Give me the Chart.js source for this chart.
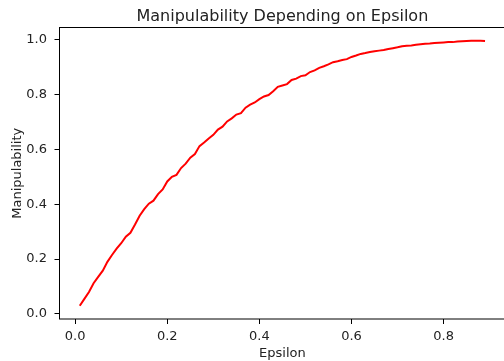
<!DOCTYPE html>
<html>
<head>
<meta charset="utf-8">
<script src="https://cdn.jsdelivr.net/npm/chart.js@4.4.1/dist/chart.umd.min.js"></script>
<style>
  html, body { margin: 0; padding: 0; background: #fff; overflow: hidden; }
  canvas { display: block; }
</style>
</head>
<body>
<canvas id="chartManip" width="520" height="361"></canvas>
<script>
// epsilon values on the x axis
var epsilon = [
  0.01, 0.02, 0.03, 0.04, 0.05, 0.06, 0.07, 0.08, 0.09, 0.10,
  0.11, 0.12, 0.13, 0.14, 0.15, 0.16, 0.17, 0.18, 0.19, 0.20,
  0.21, 0.22, 0.23, 0.24, 0.25, 0.26, 0.27, 0.28, 0.29, 0.30,
  0.31, 0.32, 0.33, 0.34, 0.35, 0.36, 0.37, 0.38, 0.39, 0.40,
  0.41, 0.42, 0.43, 0.44, 0.45, 0.46, 0.47, 0.48, 0.49, 0.50,
  0.51, 0.52, 0.53, 0.54, 0.55, 0.56, 0.57, 0.58, 0.59, 0.60,
  0.61, 0.62, 0.63, 0.64, 0.65, 0.66, 0.67, 0.68, 0.69, 0.70,
  0.71, 0.72, 0.73, 0.74, 0.75, 0.76, 0.77, 0.78, 0.79, 0.80,
  0.81, 0.82, 0.83, 0.84, 0.85, 0.86, 0.87, 0.88, 0.89
];

// manipulability
var manipulability = [
  0.030, 0.055, 0.080, 0.112, 0.135, 0.158, 0.190, 0.215, 0.238, 0.258,
  0.282, 0.296, 0.326, 0.358, 0.382, 0.402, 0.413, 0.437, 0.454, 0.483,
  0.500, 0.507, 0.532, 0.548, 0.570, 0.583, 0.612, 0.625, 0.640, 0.653,
  0.672, 0.683, 0.702, 0.713, 0.727, 0.732, 0.752, 0.763, 0.771, 0.783,
  0.793, 0.798, 0.812, 0.828, 0.833, 0.838, 0.853, 0.858, 0.867, 0.870,
  0.882, 0.888, 0.897, 0.903, 0.910, 0.918, 0.921, 0.926, 0.929, 0.937,
  0.942, 0.948, 0.951, 0.955, 0.958, 0.960, 0.962, 0.966, 0.969, 0.972,
  0.976, 0.978, 0.979, 0.981, 0.983, 0.985, 0.986, 0.988, 0.989, 0.990,
  0.991, 0.991, 0.993, 0.994, 0.995, 0.996, 0.996, 0.996, 0.995
];

var xTicks = [0.0, 0.2, 0.4, 0.6, 0.8];
var yTicks = [0.0, 0.2, 0.4, 0.6, 0.8, 1.0];
var chartTitle = 'Manipulability Depending on Epsilon';

// matplotlib style 5% margins around the data
function padRange(arr) {
  var lo = Math.min.apply(null, arr), hi = Math.max.apply(null, arr);
  var m = (hi - lo) * 0.05;
  return { min: lo - m, max: hi + m };
}
var xr = padRange(epsilon);
var yr = padRange(manipulability);

var font = 'DejaVu Sans';
var textColor = '#222';

// spines on all four sides + title centred over the plot area
var frame = {
  id: 'frame',
  afterDraw: function (chart) {
    var a = chart.chartArea, ctx = chart.ctx;
    ctx.save();
    ctx.strokeStyle = '#000';
    ctx.lineWidth = 1;
    ctx.strokeRect(a.left, a.top, a.right - a.left, a.bottom - a.top);
    ctx.fillStyle = textColor;
    ctx.font = '16px "' + font + '"';
    ctx.textAlign = 'center';
    ctx.textBaseline = 'alphabetic';
    ctx.fillText(chartTitle, (a.left + a.right) / 2, a.top - 6.5);
    ctx.restore();
  }
};

var config = {
  type: 'line',
  data: {
    datasets: [{
      label: 'Manipulability',
      data: epsilon.map(function (e, i) { return { x: e, y: manipulability[i] }; }),
      borderColor: '#ff0000',
      borderWidth: 2,
      pointRadius: 0,
      fill: false,
      tension: 0
    }]
  },
  options: {
    responsive: false,
    animation: false,
    layout: { padding: { left: 0, right: 14.7, top: 27.5, bottom: 0 } },
    plugins: {
      legend: { display: false },
      tooltip: { enabled: false },
      title: { display: false }
    },
    scales: {
      x: {
        type: 'linear',
        min: xr.min,
        max: xr.max,
        afterFit: function (s) { s.height = 42; },
        afterBuildTicks: function (s) { s.ticks = xTicks.map(function (v) { return { value: v }; }); },
        border: { display: false },
        grid: { drawOnChartArea: false, tickLength: 5, tickColor: '#000', tickWidth: 1 },
        ticks: {
          color: textColor,
          padding: 5.2,
          maxRotation: 0,
          font: { family: font, size: 13 },
          callback: function (v) { return v.toFixed(1); }
        },
        title: {
          display: true,
          text: 'Epsilon',
          color: textColor,
          font: { family: font, size: 13 },
          padding: { top: 0, bottom: 0 }
        }
      },
      y: {
        min: yr.min,
        max: yr.max,
        afterFit: function (s) { s.width = 59.5; },
        afterBuildTicks: function (s) { s.ticks = yTicks.map(function (v) { return { value: v }; }); },
        border: { display: false },
        grid: { drawOnChartArea: false, tickLength: 5, tickColor: '#000', tickWidth: 1 },
        ticks: {
          color: textColor,
          padding: 7.5,
          font: { family: font, size: 13 },
          callback: function (v) { return v.toFixed(1); }
        },
        title: {
          display: true,
          text: 'Manipulability',
          color: textColor,
          font: { family: font, size: 13 },
          padding: { top: 9.5, bottom: 0 }
        }
      }
    }
  },
  plugins: [frame]
};

var ctx = document.getElementById('chartManip').getContext('2d');
window.chartManip = new Chart(ctx, config);
</script>
</body>
</html>
